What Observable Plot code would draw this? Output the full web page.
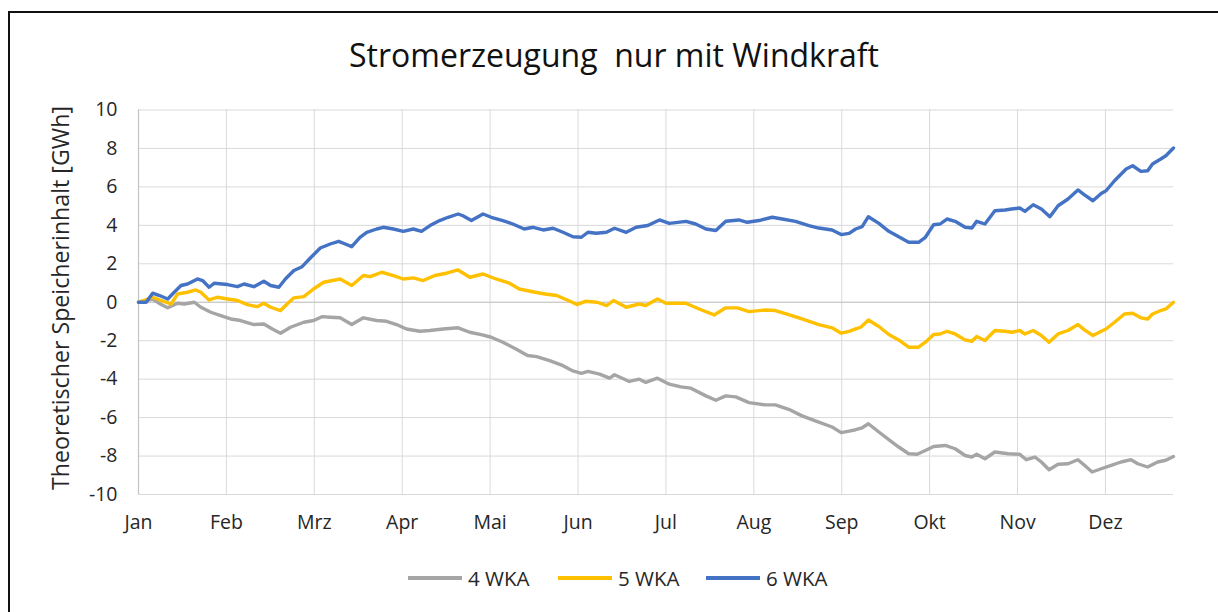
<!DOCTYPE html>
<html><head><meta charset="utf-8">
<script src="https://cdn.jsdelivr.net/npm/d3@7"></script>
<script src="https://cdn.jsdelivr.net/npm/@observablehq/plot@0.6"></script>
<style>
body{margin:0;background:#fff;}
#wrap{position:relative;width:1218px;height:612px;overflow:hidden;font-family:"Open Sans",sans-serif;color:#262626;background:#fff;}
#frameL{position:absolute;left:8px;top:11px;width:2px;height:601px;background:#111}
#frameT{position:absolute;left:8px;top:11px;width:1210px;height:2px;background:#111}
#title{position:absolute;left:0;width:1228px;top:33px;text-align:center;font-size:32px;line-height:44px;color:#111;white-space:pre}
#ylab{position:absolute;left:60px;top:298px;transform:translate(-50%,-50%) rotate(-90deg);font-size:23.2px;white-space:nowrap;color:#262626}
#chart{position:absolute;left:0;top:0}
.leg{position:absolute;top:565px;height:26px;display:flex;align-items:center;font-size:20.5px;color:#262626}
.sw{width:54px;height:3.5px;margin-right:6px}
</style>
</head><body>
<div id="wrap">
  <div id="chart"></div>
  <div id="frameL"></div><div id="frameT"></div>
  <div id="title"></div>
  <div id="ylab"></div>
  <div id="legend"></div>
</div>
<script>
const titleText = "Stromerzeugung  nur mit Windkraft";
const yLabel = "Theoretischer Speicherinhalt [GWh]";
const monthLabels = ["Jan","Feb","Mrz","Apr","Mai","Jun","Jul","Aug","Sep","Okt","Nov","Dez"];
const monthDays = [0,31,62,93,124,155,186,217,248,279,310,341];
const yTicks = [-10,-8,-6,-4,-2,0,2,4,6,8,10];
const seriesNames = ["4 WKA","5 WKA","6 WKA"];
const seriesColors = ["#A5A5A5","#FFC000","#4472C4"];

// 4 WKA (grey)
const daysGray = [0,5,8,10.3,13.8,16.1,19.7,22,25.5,29,32.5,36,40.7,44.2,47.2,50.1,53.6,58.3,61.8,64.7,67.6,71.1,75.2,79.3,84,87.5,91,94.5,99.2,102.7,107.4,112.7,116.8,120.9,124.4,128.5,133.1,137.2,
 140.4,145,149.7,153.2,156.2,158.5,162.6,166.1,167.9,173.1,176.6,178.9,183,187.2,191.3,194.8,200.1,203.6,207.1,210.6,215.3,221.1,224.6,229.3,234,238.7,244.6,247.8,
 250.6,252.9,255.2,257.4,261.1,264.6,268.1,271.6,274.6,277.5,280.4,284.5,288,291.5,293.9,295.6,298.5,302,306.7,310.8,313.1,316.1,318.4,321.1,324.3,327.8,331.3,333.6,336.3,339.5,343,346.5,350,352.4,355.9,359.4,362.3,365];
const valsGray = [0,0.17,-0.12,-0.29,-0.05,-0.09,0,-0.26,-0.52,-0.69,-0.87,-0.95,-1.16,-1.13,-1.39,-1.61,-1.3,-1.04,-0.95,-0.75,-0.78,-0.81,-1.16,-0.81,-0.95,-0.99,-1.16,-1.39,-1.51,-1.47,-1.39,-1.33,-1.56,-1.68,-1.82,-2.08,-2.43,-2.77,
 -2.83,-3.04,-3.3,-3.57,-3.7,-3.6,-3.74,-3.95,-3.77,-4.12,-4.0,-4.17,-3.95,-4.26,-4.4,-4.47,-4.87,-5.1,-4.87,-4.92,-5.22,-5.34,-5.34,-5.57,-5.91,-6.17,-6.49,-6.78,
 -6.7,-6.63,-6.53,-6.32,-6.75,-7.15,-7.53,-7.88,-7.91,-7.71,-7.5,-7.45,-7.62,-7.97,-8.05,-7.91,-8.14,-7.79,-7.88,-7.91,-8.19,-8.05,-8.31,-8.71,-8.43,-8.4,-8.19,-8.48,-8.83,-8.66,-8.48,-8.31,-8.19,-8.4,-8.57,-8.31,-8.22,-8.02];

// 5 WKA (yellow)
const daysYellow = [0,5,8,11.5,13.8,17.3,20.2,22,24.9,27.8,31.4,34.9,38.4,41.9,44.2,46.6,50.1,52.4,54.8,58.3,61.7,65.3,71.1,75.2,79.3,81.7,85.8,89.9,93.4,96.9,100.4,104.5,108.6,112.7,116.8,121.5,126.1,130.8,134.3,
 139.9,143.4,147.5,151.6,154.6,157.6,161.7,165.2,167.5,172,176.6,178.9,183,186,193,197.7,203,207.1,211.2,215.3,221.1,224.6,229.3,234,239.9,244.6,247.8,
 250.6,252.9,254.7,257.4,261.1,264.6,268.1,271.6,275.1,277.5,280.4,282.7,285.1,288,291.5,293.9,295.6,298.5,302,305.6,307.9,310.8,312.6,315.5,318.4,321.1,324.3,327.8,331.3,333.6,336.6,339.5,341.2,344.2,347.7,350.6,353.5,355.9,357.6,360.5,362.3,365];
const valsYellow = [0,0.26,0.09,-0.09,0.43,0.52,0.64,0.52,0.12,0.26,0.17,0.09,-0.12,-0.23,-0.05,-0.26,-0.43,-0.09,0.23,0.29,0.69,1.04,1.21,0.87,1.39,1.33,1.56,1.39,1.21,1.27,1.13,1.39,1.51,1.68,1.3,1.47,1.21,0.99,0.69,
 0.52,0.43,0.35,0.09,-0.12,0.05,0,-0.17,0.09,-0.26,-0.09,-0.17,0.17,-0.05,-0.05,-0.35,-0.66,-0.29,-0.29,-0.49,-0.4,-0.43,-0.64,-0.87,-1.16,-1.33,-1.61,
 -1.51,-1.39,-1.3,-0.92,-1.26,-1.68,-1.96,-2.34,-2.34,-2.08,-1.68,-1.65,-1.51,-1.65,-1.96,-2.03,-1.78,-1.99,-1.47,-1.51,-1.56,-1.47,-1.65,-1.47,-1.73,-2.08,-1.65,-1.47,-1.16,-1.44,-1.73,-1.51,-1.39,-1.04,-0.61,-0.57,-0.81,-0.87,-0.61,-0.43,-0.35,0];

// 6 WKA (blue)
const daysBlue = [0,2.7,5,7.4,10.3,12.6,15,17.3,20.8,22.6,24.9,26.7,31.4,34.9,37.2,40.7,44.2,46.6,49.5,51.8,54.8,57.7,60.6,64.1,67.6,70.6,72.9,75.2,78.1,80.5,84,86.3,89.9,93.4,96.9,99.8,102.8,106.2,109.2,112.7,114.4,117.4,121.5,124.4,128.5,132,136,
 139.2,142.7,146.2,149.7,153.2,156.2,158.5,161.4,165,167.9,172,175.5,179.6,183.7,187.2,193.1,196.5,200.1,203.6,207.1,211.7,214.7,218.8,223.5,227,231.7,236.4,239.9,244.6,247.8,
 250.6,252.9,255.2,257.4,261.1,264.6,268.1,271.6,275.1,277.5,280.4,282.7,285.1,288,291.5,293.9,295.6,298.5,302,305.6,307.9,310.8,312.6,315.5,318.4,321.4,324.3,327.8,331.3,333.6,336.6,339.5,341.2,344.2,348.3,350.6,353.5,355.9,357.6,360.5,362.3,365];
const valsBlue = [0,0,0.47,0.35,0.17,0.52,0.87,0.95,1.21,1.13,0.78,0.99,0.92,0.81,0.95,0.81,1.09,0.87,0.78,1.21,1.65,1.85,2.3,2.82,3.03,3.17,3.03,2.89,3.38,3.64,3.81,3.9,3.81,3.69,3.81,3.69,3.99,4.25,4.42,4.59,4.5,4.25,4.59,4.42,4.25,4.07,3.81,
 3.9,3.76,3.85,3.64,3.41,3.38,3.64,3.59,3.64,3.85,3.64,3.9,3.99,4.28,4.1,4.21,4.07,3.81,3.73,4.21,4.28,4.16,4.25,4.42,4.33,4.21,3.99,3.86,3.76,3.52,
 3.58,3.81,3.93,4.45,4.1,3.69,3.41,3.12,3.12,3.38,4.03,4.07,4.33,4.21,3.9,3.86,4.21,4.07,4.76,4.8,4.85,4.9,4.73,5.07,4.85,4.45,5.02,5.37,5.84,5.59,5.28,5.66,5.8,6.32,6.93,7.1,6.81,6.84,7.19,7.45,7.62,8.02];

const seriesDays = [daysGray, daysYellow, daysBlue];
const seriesVals = [valsGray, valsYellow, valsBlue];

document.getElementById("title").textContent = titleText;
document.getElementById("ylab").textContent = yLabel;

const lineMarks = seriesNames.map((name, s) => {
  const data = seriesDays[s].map((d, i) => ({day: d, v: seriesVals[s][i]}));
  return Plot.line(data, {x: "day", y: "v", stroke: seriesColors[s], strokeWidth: 3.4, strokeLinejoin: "round", curve: "linear"});
});

const chart = Plot.plot({
  width: 1218, height: 612,
  marginLeft: 138, marginRight: 45, marginTop: 109.5, marginBottom: 118,
  style: {fontFamily: "Open Sans", fontSize: "19.5px", color: "#262626", background: "transparent"},
  x: {domain: [0, 365], ticks: monthDays, tickFormat: (d) => monthLabels[monthDays.indexOf(d)], tickSize: 0, tickPadding: 21, label: null},
  y: {domain: [-10, 10], ticks: yTicks, tickSize: 0, tickPadding: 21, tickFormat: (d) => String(d), label: null},
  marks: [
    Plot.gridY(yTicks, {stroke: "#d9d9d9", strokeOpacity: 1, strokeWidth: 1}),
    Plot.gridX(monthDays, {stroke: "#d9d9d9", strokeOpacity: 1, strokeWidth: 1}),
    Plot.ruleY([0], {stroke: "#c4c4c4", strokeWidth: 1.2}),
    Plot.ruleX([0], {stroke: "#c4c4c4", strokeWidth: 1.2}),
    ...lineMarks
  ]
});
document.getElementById("chart").appendChild(chart);

const legLefts = [408, 558, 706];
const legend = document.getElementById("legend");
seriesNames.forEach((name, s) => {
  const item = document.createElement("div");
  item.className = "leg";
  item.style.left = legLefts[s] + "px";
  const sw = document.createElement("span");
  sw.className = "sw";
  sw.style.background = seriesColors[s];
  const tx = document.createElement("span");
  tx.textContent = name;
  item.appendChild(sw); item.appendChild(tx);
  legend.appendChild(item);
});
</script>
</body></html>
